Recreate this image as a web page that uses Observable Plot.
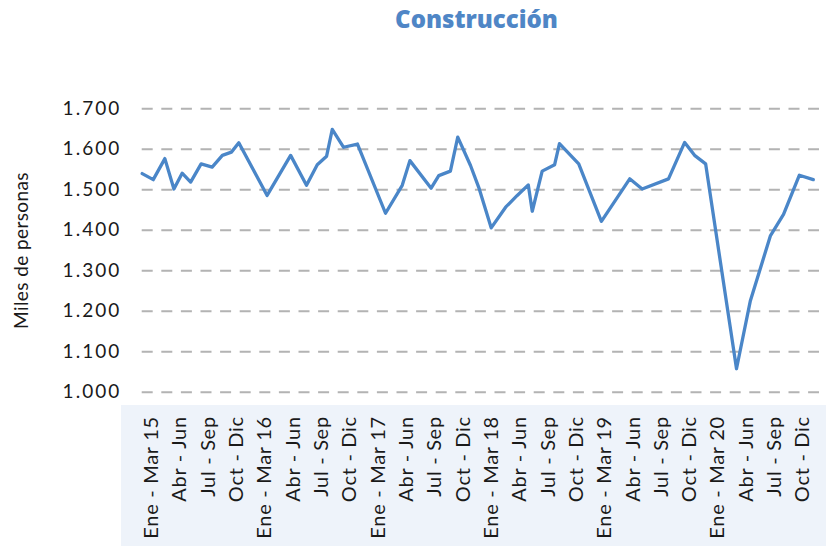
<!DOCTYPE html>
<html>
<head>
<meta charset="utf-8">
<script src="https://cdn.jsdelivr.net/npm/d3@7"></script>
<script src="https://cdn.jsdelivr.net/npm/@observablehq/plot@0.6"></script>
<style>
  html, body { margin: 0; padding: 0; background: #fff; }
  #wrap { position: relative; width: 830px; height: 546px; overflow: hidden; font-family: "Lato", sans-serif; }
  #panel { position: absolute; left: 121px; top: 405px; width: 705px; height: 141px; background: #eef3fa; }
  #title { position: absolute; left: 326.5px; width: 300px; top: 4px; text-align: center;
           font-family: "Open Sans", sans-serif; font-weight: 800; font-size: 24px; line-height: 30px; color: #4f86c6; }
  #chart { position: absolute; left: 0; top: 0; }
  g[aria-label="y-axis tick label"] { letter-spacing: 2px; }
  g[aria-label="x-axis tick label"] { letter-spacing: 0.7px; }
  g[aria-label="y-axis label"] { letter-spacing: 0.4px; }
</style>
</head>
<body>
<div id="wrap">
  <div id="panel"></div>
  <div id="title">Construcción</div>
  <div id="chart"></div>
</div>
<script>
// Period labels (quarters), shown every quarter on the axis
const periodLabels = [
  "Ene - Mar 15","Abr - Jun","Jul - Sep","Oct - Dic",
  "Ene - Mar 16","Abr - Jun","Jul - Sep","Oct - Dic",
  "Ene - Mar 17","Abr - Jun","Jul - Sep","Oct - Dic",
  "Ene - Mar 18","Abr - Jun","Jul - Sep","Oct - Dic",
  "Ene - Mar 19","Abr - Jun","Jul - Sep","Oct - Dic",
  "Ene - Mar 20","Abr - Jun","Jul - Sep","Oct - Dic"
];
// Position of each vertex along the axis, in quarters (0 = "Ene - Mar 15")
const position = [
  -0.33, 0.06, 0.47, 0.79, 1.08, 1.38, 1.75, 2.14, 2.50, 2.82,
  3.08, 4.08, 4.91, 5.47, 5.85, 6.18, 6.38, 6.78, 7.27, 8.26,
  8.85, 9.12, 9.87, 10.14, 10.55, 10.81, 11.26, 11.55, 11.99, 12.50,
  12.91, 13.30, 13.44, 13.79, 14.23, 14.40, 15.08, 15.88, 16.88, 17.32,
  18.25, 18.82, 19.17, 19.56, 20.65, 21.14, 21.85, 22.31, 22.87, 23.36
];
// Employed persons in construction (thousands)
const persons = [
  1540, 1525, 1577, 1502, 1541, 1519, 1564, 1556, 1585, 1593,
  1616, 1486, 1585, 1511, 1562, 1583, 1649, 1605, 1613, 1442,
  1511, 1572, 1504, 1535, 1546, 1630, 1560, 1506, 1406, 1457,
  1486, 1512, 1447, 1546, 1562, 1614, 1564, 1422, 1527, 1502,
  1527, 1617, 1585, 1564, 1058, 1226, 1387, 1439, 1536, 1525
];
const yTicks = [1000, 1100, 1200, 1300, 1400, 1500, 1600, 1700];

const data = position.map((t, i) => ({t, v: persons[i]}));
const fmt = d => d3.format(",")(d).replace(/,/g, ".");

const chart = Plot.plot({
  width: 830,
  height: 546,
  marginTop: 108.3,
  marginBottom: 154.3,
  marginLeft: 141.7,
  marginRight: 11,
  style: { fontFamily: "Lato, sans-serif", fontSize: "18px", color: "#1a1a1a", background: "transparent", overflow: "visible" },
  x: { domain: [d3.min(position), 23.58] },
  y: { domain: [1000, 1700] },
  marks: [
    Plot.gridY(yTicks, { stroke: "#b3b3b3", strokeOpacity: 1, strokeWidth: 2, strokeDasharray: "11,8.6" }),
    Plot.axisY(yTicks, { tickSize: 0, tickPadding: 21, tickFormat: fmt, fontSize: 19,
      label: "Miles de personas", labelAnchor: "center", labelArrow: "none", labelOffset: 128 }),
    Plot.axisX(d3.range(periodLabels.length), { tickSize: 0, tickPadding: 24, tickRotate: -90,
      tickFormat: i => periodLabels[i], fontSize: 20, label: null }),
    Plot.line(data, { x: "t", y: "v", stroke: "#4a86c8", strokeWidth: 3.3, strokeLinejoin: "round", strokeLinecap: "round" })
  ]
});
document.getElementById("chart").appendChild(chart);
</script>
</body>
</html>
